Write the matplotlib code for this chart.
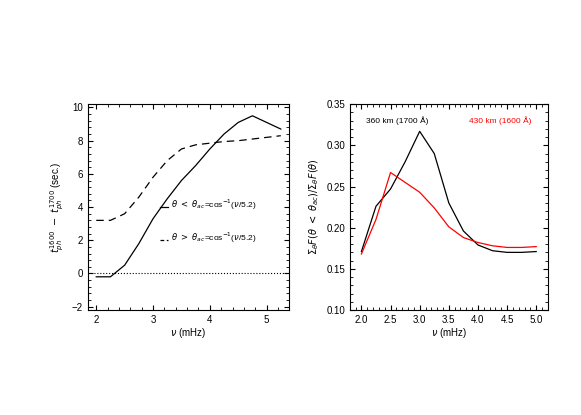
import numpy as np
import matplotlib
matplotlib.use('Agg')
import matplotlib.pyplot as plt
from matplotlib.ticker import AutoMinorLocator

# left panel: travel time difference
nu_left = [2.0, 2.25, 2.5, 2.75, 3.0, 3.25, 3.5, 3.75, 4.0, 4.25, 4.5, 4.75, 5.0, 5.25]
dt_below = [-0.2, -0.2, 0.5, 1.8, 3.3, 4.5, 5.6, 6.5, 7.5, 8.4, 9.1, 9.5, 9.1, 8.7]
dt_above = [3.2, 3.2, 3.6, 4.6, 5.8, 6.8, 7.5, 7.75, 7.85, 7.95, 8.0, 8.1, 8.2, 8.3]

# right panel: flux fraction
nu_right = [2.0, 2.25, 2.5, 2.75, 3.0, 3.25, 3.5, 3.75, 4.0, 4.25, 4.5, 4.75, 5.0]
frac_1700 = [0.171, 0.226, 0.247, 0.280, 0.317, 0.290, 0.230, 0.196, 0.179, 0.172, 0.170, 0.170, 0.171]
frac_1600 = [0.168, 0.210, 0.267, 0.255, 0.243, 0.224, 0.201, 0.188, 0.182, 0.178, 0.176, 0.176, 0.177]

plt.rcParams['font.size'] = 7
plt.rcParams['font.family'] = ['Liberation Sans', 'DejaVu Sans']
plt.rcParams['mathtext.fontset'] = 'dejavusans'

fig = plt.figure(figsize=(5.81, 4.15), dpi=100)
ax1 = fig.add_axes([0.151, 0.253, 0.347, 0.496])
ax2 = fig.add_axes([0.602, 0.253, 0.341, 0.496])

for ax in (ax1, ax2):
    ax.tick_params(direction='in', which='both', top=True, right=True, labelsize=7)
    ax.xaxis.set_minor_locator(AutoMinorLocator(5))
    ax.yaxis.set_minor_locator(AutoMinorLocator(5))

# 왼쪽
ax1.plot(nu_left, dt_below, 'k-', lw=0.9)
ax1.plot(nu_left, dt_above, 'k--', lw=0.9, dashes=(6, 4))
ax1.axhline(0, color='k', ls=':', lw=0.8)
ax1.set_xlim(1.85, 5.4)
ax1.set_ylim(-2.2, 10.2)
ax1.set_xticks([2, 3, 4, 5])
ax1.set_yticks([-2, 0, 2, 4, 6, 8, 10])
ax1.set_xlabel(r'$\nu$ (mHz)', labelpad=1)
ax1.set_ylabel(r'$t_{ph}^{1600}\ -\ t_{ph}^{1700}$ (sec.)')
ax1.text(3.32, 3.95, r'$\theta\ <\ \theta_{ac}$=cos$^{-1}$($\nu$/5.2)', fontsize=6)
ax1.plot([3.12, 3.27], [4.0, 4.0], 'k-', lw=0.9)
ax1.text(3.32, 1.95, r'$\theta\ >\ \theta_{ac}$=cos$^{-1}$($\nu$/5.2)', fontsize=6)
ax1.plot([3.12, 3.27], [2.0, 2.0], 'k--', lw=0.9, dashes=(3, 2))

# 오른쪽
ax2.plot(nu_right, frac_1700, 'k-', lw=0.9)
ax2.plot(nu_right, frac_1600, 'r-', lw=0.9)
ax2.set_xlim(1.8, 5.2)
ax2.set_ylim(0.10, 0.35)
ax2.set_xticks([2.0, 2.5, 3.0, 3.5, 4.0, 4.5, 5.0])
ax2.set_xticklabels(['2.0', '2.5', '3.0', '3.5', '4.0', '4.5', '5.0'])
ax2.set_yticks([0.10, 0.15, 0.20, 0.25, 0.30, 0.35])
ax2.set_yticklabels(['0.10', '0.15', '0.20', '0.25', '0.30', '0.35'])
ax2.set_xlabel(r'$\nu$ (mHz)', labelpad=1)
ax2.set_ylabel(r'$\Sigma_\theta F(\theta\ <\ \theta_{ac})/\Sigma_\theta F(\theta)$')
ax2.text(0.08, 0.91, '360 km (1700 Å)', transform=ax2.transAxes, fontsize=6, color='k')
ax2.text(0.6, 0.91, '430 km (1600 Å)', transform=ax2.transAxes, fontsize=6, color='r')

fig.savefig('out.png', dpi=100)
